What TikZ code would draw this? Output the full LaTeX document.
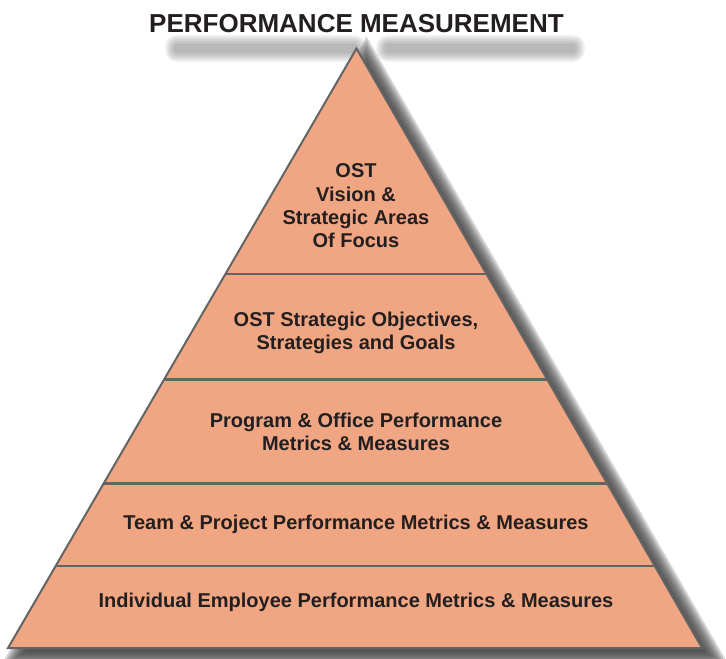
\documentclass[tikz,border=0pt]{standalone}
\usepackage{fontspec}
\setmainfont{Liberation Sans}
\usetikzlibrary{calc}
\definecolor{salmon}{HTML}{F0A682}
\definecolor{edgegray}{HTML}{646464}
\definecolor{shadowgray}{HTML}{3A3A3A}
\definecolor{titleshadow}{HTML}{555555}
\definecolor{inkc}{HTML}{231F20}
\tikzset{
  layertext/.style={font=\bfseries\fontsize{20}{24}\selectfont, text=inkc, inner sep=0pt, anchor=base},
  titletext/.style={font=\bfseries\fontsize{26}{30}\selectfont, text=inkc, inner sep=0pt},
  pyrfill/.style={fill=salmon},
  pyredge/.style={draw=edgegray, line width=2pt, line join=miter},
  divider/.style={draw=edgegray, line width=2.2pt},
  shadowlayer/.style={fill=shadowgray, fill opacity=0.22},
  tblur/.style={fill=titleshadow, fill opacity=0.075},
}
\begin{document}
\begin{tikzpicture}[x=1pt,y=-1pt]
\useasboundingbox (0,0) rectangle (726,659);
% corners of the pyramid and its incentre
\coordinate (A) at (356.5,48.5);
\coordinate (L) at (8,648);
\coordinate (R) at (702,648);
\coordinate (I) at (355.75,447.9);
% soft shadow of the pyramid: nested offset triangles
\foreach \d in {-4,-2,0,2,4,6,8,10}{
  \pgfmathsetmacro\f{(200.1+\d)/200.1}
  \path[shadowlayer] ($(I)!\f!(A)+(10,8)$) -- ($(I)!\f!(L)+(10,8)$) -- ($(I)!\f!(R)+(10,8)$) -- cycle;
}
% blurred shadow of the title
\foreach \d in {0,1.5,3,4.5,6,7.5,9}{
  \path[tblur, rounded corners=\d pt+3pt] (174-\d,44-\d) rectangle (357+\d,53+\d);
  \path[tblur, rounded corners=\d pt+3pt] (385-\d,44-\d) rectangle (576+\d,53+\d);
}
% pyramid body
\path[pyrfill] (A) -- (L) -- (R) -- cycle;
% layer dividers
\coordinate (l1) at ($(A)!0.3761!(L)$);
\coordinate (r1) at ($(A)!0.3761!(R)$);
\coordinate (l2) at ($(A)!0.5521!(L)$);
\coordinate (r2) at ($(A)!0.5521!(R)$);
\coordinate (l3) at ($(A)!0.7256!(L)$);
\coordinate (r3) at ($(A)!0.7256!(R)$);
\coordinate (l4) at ($(A)!0.8632!(L)$);
\coordinate (r4) at ($(A)!0.8632!(R)$);
\draw[divider] (l1) -- (r1);
\draw[divider] (l2) -- (r2);
\draw[divider] (l3) -- (r3);
\draw[divider] (l4) -- (r4);
\draw[pyredge] (A) -- (L) -- (R) -- cycle;
% title
\node[titletext] (title) at (356.5,24) {PERFORMANCE MEASUREMENT};
% layer 1
\node[layertext] (t1a) at (356,177) {OST};
\node[layertext] (t1b) at (356,201) {Vision \&};
\node[layertext] (t1c) at (356,224.5) {Strategic Areas};
\node[layertext] (t1d) at (356,247) {Of Focus};
% layer 2
\node[layertext] (t2a) at (356,326.5) {OST Strategic Objectives,};
\node[layertext] (t2b) at (356,349) {Strategies and Goals};
% layer 3
\node[layertext] (t3a) at (356,427) {Program \& Office Performance};
\node[layertext] (t3b) at (356,450) {Metrics \& Measures};
% layer 4
\node[layertext] (t4) at (356,529) {Team \& Project Performance Metrics \& Measures};
% layer 5
\node[layertext] (t5) at (356,607.3) {Individual Employee Performance Metrics \& Measures};
\end{tikzpicture}
\end{document}
